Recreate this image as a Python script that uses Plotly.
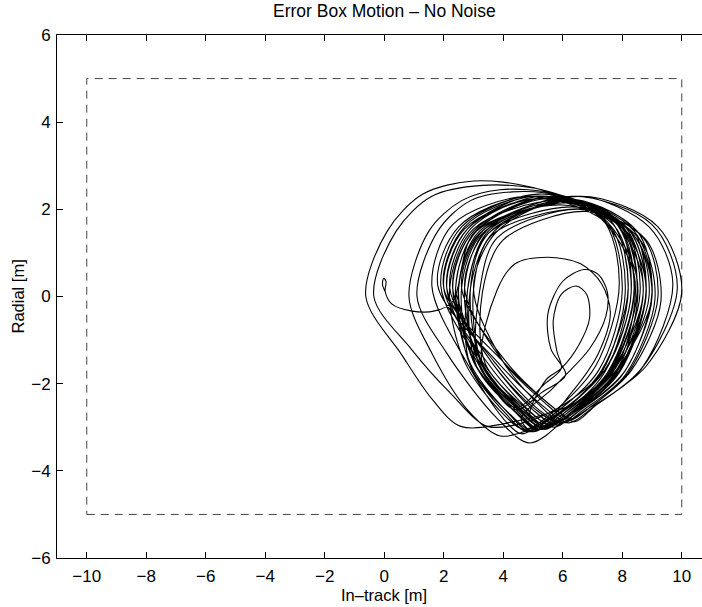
import plotly.graph_objects as go

# ---- data ----
x_ticks = [-10, -8, -6, -4, -2, 0, 2, 4, 6, 8, 10]
y_ticks = [-6, -4, -2, 0, 2, 4, 6]

box_x = [-10, 10, 10, -10, -10]
box_y = [-5, -5, 5, 5, -5]

start_pts = [(0.02, 0.12), (-0.06, 0.28), (-0.02, 0.42), (0.06, 0.34), (0.03, 0.12),
             (0.25, -0.17), (0.9, -0.33), (1.7, -0.33), (2.3, -0.12)]

loops_1 = [
    (3.0, 1.45), (5.5, 2.25), (7.9, 1.65), (8.5, 0.1), (7.6, -1.7), (6.1, -2.7), (5.4, -3.0), (4.7, -2.6), (3.3, -1.5),
    (2.1, 0.2), (2.8, 1.55), (5.0, 2.3), (7.7, 1.75), (8.4, 0.2), (7.5, -1.75), (5.9, -2.75), (5.1, -3.05), (4.4, -2.65), (3.0, -1.5),
    (2.6, 0.2), (3.3, 1.45), (6.3, 2.15), (8.4, 1.4), (8.9, 0.0), (7.9, -1.6), (6.4, -2.45), (4.5, -2.85), (2.57, -2.98), (1.6, -2.35), (0.6, -1.35),
    (-0.62, 0.0), (0.1, 1.5), (1.3, 2.35), (3.0, 2.65), (5.0, 2.5), (7.1, 1.9), (8.4, 0.5), (7.9, -1.5), (6.4, -2.6), (5.3, -3.0), (4.5, -2.6), (3.2, -1.5),
    (1.9, 0.25), (2.6, 1.6), (5.2, 2.35), (7.6, 1.75), (8.2, 0.2), (7.3, -1.7), (5.7, -2.8), (4.9, -3.1), (4.2, -2.7), (2.9, -1.55),
    (2.4, 0.2), (3.1, 1.5), (6.0, 2.1), (8.1, 1.5), (8.6, 0.1), (7.7, -1.7), (6.2, -2.7), (5.5, -3.0), (4.9, -2.75),
]

inner_1 = [
    (5.45, -1.9), (5.95, -1.65), (6.55, -1.1), (6.9, -0.5), (6.8, 0.05), (6.45, 0.24), (5.95, 0.05),
    (5.68, -0.55), (5.8, -1.25), (5.95, -1.65), (5.4, -2.0), (4.4, -2.55), (3.1, -1.4),
]

loops_2 = [
    (2.8, 0.15), (3.5, 1.45), (6.5, 2.05), (8.4, 1.4), (9.0, 0.0), (8.0, -1.8), (6.6, -2.6), (5.8, -2.95), (5.0, -2.6), (3.6, -1.5),
    (2.2, 0.2), (2.9, 1.55), (5.3, 2.3), (7.8, 1.7), (8.3, 0.1), (7.5, -1.6), (6.1, -2.45), (4.9, -2.85), (3.47, -2.98), (2.2, -2.2), (0.9, -1.2),
    (-0.35, 0.0), (0.4, 1.5), (1.6, 2.3), (3.3, 2.55), (5.3, 2.45), (7.3, 1.85), (8.5, 0.4), (7.9, -1.6), (6.3, -2.7), (5.2, -3.05), (4.4, -2.65), (3.1, -1.6),
    (2.5, 0.2), (3.2, 1.5), (6.2, 2.2), (8.1, 1.6), (8.7, 0.05), (7.6, -1.75), (6.1, -2.7), (5.4, -3.0), (4.7, -2.65), (3.3, -1.55),
    (3.0, 0.15), (3.6, 1.4), (6.8, 2.0), (8.6, 1.3), (9.1, -0.05), (8.1, -1.8), (6.7, -2.6), (6.0, -2.9), (5.3, -2.55), (4.0, -1.5),
    (3.0, 0.2), (3.8, 1.5), (6.6, 2.3), (9.2, 1.6), (10.0, 0.1), (8.8, -1.6), (7.1, -2.5), (6.4, -2.87), (5.6, -2.5), (4.0, -1.5),
    (2.0, 0.2), (2.7, 1.6), (5.1, 2.3), (7.6, 1.75), (8.2, 0.15), (7.4, -1.75), (5.8, -2.8), (5.0, -3.1), (4.6, -2.8),
]

inner_2 = [
    (5.6, -2.15), (6.1, -1.8), (6.9, -1.2), (7.45, -0.45), (7.5, 0.1), (7.2, 0.5), (6.72, 0.62), (6.0, 0.35),
    (5.5, -0.4), (5.6, -1.2), (6.1, -1.8), (5.3, -2.2), (4.4, -2.6), (3.2, -1.55),
]

loops_3 = [
    (2.7, 0.2), (3.4, 1.5), (6.0, 2.25), (8.2, 1.55), (8.8, 0.0), (7.8, -1.6), (6.3, -2.5), (5.2, -2.95), (3.9, -3.2), (2.8, -2.6), (1.6, -1.3),
    (0.83, 0.0), (1.5, 1.5), (2.6, 2.2), (3.9, 2.45), (5.8, 2.35), (7.7, 1.75), (8.7, 0.3), (7.9, -1.7), (6.2, -2.75), (5.3, -3.0), (4.5, -2.6), (3.2, -1.6),
    (2.3, 0.2), (3.0, 1.5), (5.6, 2.3), (7.9, 1.6), (8.4, 0.05), (7.5, -1.8), (6.1, -2.7), (5.3, -3.0), (4.6, -2.65), (3.2, -1.6),
    (3.2, 0.1), (3.8, 1.35), (6.6, 2.0), (8.7, 1.35), (9.2, 0.0), (8.2, -1.75), (6.9, -2.55), (6.2, -2.85), (5.5, -2.5), (4.0, -1.5),
    (2.7, 0.2), (3.5, 1.55), (6.3, 2.3), (9.0, 1.65), (9.85, 0.2), (8.6, -1.7), (6.8, -2.6), (6.0, -2.9), (5.2, -2.6), (3.7, -1.5),
    (2.1, 0.2), (2.8, 1.55), (5.2, 2.25), (7.7, 1.65), (8.3, 0.1), (7.4, -1.7), (5.6, -2.8), (4.8, -3.1), (4.1, -2.7), (2.9, -1.6),
    (2.5, 0.2), (3.2, 1.45), (6.1, 2.15), (8.2, 1.45), (8.7, 0.05), (7.7, -1.8), (6.2, -2.7), (5.5, -3.0), (4.8, -2.65), (3.3, -1.55),
]

inner_3 = [
    (3.8, 0.16), (4.4, 0.75), (5.5, 0.9), (6.6, 0.75), (7.3, 0.3), (7.6, -0.37), (7.2, -1.3),
    (6.3, -2.2), (5.3, -2.9), (4.6, -2.6), (3.3, -1.6),
]

loops_4 = [
    (2.9, 0.2), (3.5, 1.45), (6.3, 2.2), (8.4, 1.5), (9.0, 0.0), (7.9, -1.6), (6.4, -2.6), (4.9, -3.36), (3.8, -2.8), (2.1, -1.3),
    (1.1, 0.0), (1.8, 1.5), (2.9, 2.2), (4.3, 2.4), (6.0, 2.3), (7.9, 1.7), (8.8, 0.2), (7.8, -1.75), (6.0, -2.8), (5.2, -3.05), (4.5, -2.65), (3.1, -1.6),
    (2.4, 0.2), (3.1, 1.5), (5.7, 2.3), (8.0, 1.6), (8.5, 0.1), (7.6, -1.75), (6.0, -2.75), (5.2, -3.05), (4.5, -2.7), (3.1, -1.6),
    (2.9, 0.2), (3.7, 1.5), (6.5, 2.3), (8.9, 1.6), (9.7, 0.3), (8.7, -1.6), (7.0, -2.55), (6.2, -2.9), (5.4, -2.55), (3.8, -1.5),
    (1.8, 0.25), (2.5, 1.6), (4.9, 2.3), (7.4, 1.75), (8.0, 0.15), (7.2, -1.7), (5.4, -2.85), (4.6, -3.15), (4.0, -2.8), (2.8, -1.55),
    (1.6, 0.25), (2.3, 1.65), (4.8, 2.3), (7.3, 1.8), (7.9, 0.3), (7.1, -1.6), (5.5, -2.75), (4.7, -3.05), (4.0, -2.7), (2.7, -1.5),
    (2.2, 0.2), (3.0, 1.55), (5.9, 2.2), (8.2, 1.55), (8.8, 0.1), (7.9, -1.7), (6.3, -2.65), (5.6, -2.95), (4.9, -2.65), (3.4, -1.55),
    (3.3, 0.1), (4.0, 1.3), (6.8, 1.95), (8.8, 1.3), (9.3, -0.1), (8.3, -1.7), (7.0, -2.5), (6.3, -2.8), (5.6, -2.5), (4.1, -1.5),
    (2.6, 0.2), (3.3, 1.5), (6.1, 2.25), (8.3, 1.6), (8.8, 0.05), (7.9, -1.75), (6.4, -2.7), (5.7, -3.0), (5.0, -2.7), (3.5, -1.55),
    (2.0, 0.2), (2.7, 1.55), (5.2, 2.25), (7.6, 1.6), (8.1, 0.1), (7.3, -1.75), (5.7, -2.8), (5.0, -3.1), (4.3, -2.75), (2.9, -1.6),
    (2.8, 0.15), (3.5, 1.5), (6.4, 2.2), (8.5, 1.5), (9.0, 0.1), (8.1, -1.7), (6.6, -2.6), (5.9, -2.9), (5.1, -2.6), (3.6, -1.5),
    (2.3, 0.2), (3.0, 1.5), (5.6, 2.3), (8.0, 1.6), (8.5, 0.1), (7.6, -1.75), (6.1, -2.75), (5.4, -3.05), (4.7, -2.7), (3.3, -1.55), (2.4, 0.1),
]

track = start_pts + loops_1 + inner_1 + loops_2 + inner_2 + loops_3 + inner_3 + loops_4
track_x = [p[0] for p in track]
track_y = [p[1] for p in track]

FONT = "Liberation Sans, Arial, Helvetica, sans-serif"

fig = go.Figure()
fig.add_trace(go.Scatter(x=box_x, y=box_y, mode="lines",
                         line=dict(color="#444444", width=1, dash="8px,6px"),
                         hoverinfo="skip", showlegend=False))
fig.add_trace(go.Scatter(x=track_x, y=track_y, mode="lines",
                         line=dict(color="black", width=1.1, shape="spline", smoothing=0.9),
                         hoverinfo="skip", showlegend=False))
# invisible trace to activate the top mirror axis
fig.add_trace(go.Scatter(x=[box_x[0]], y=[box_y[0]], xaxis="x2", mode="markers",
                         marker=dict(opacity=0), hoverinfo="skip", showlegend=False))

axis_common = dict(showgrid=False, zeroline=False, ticks="inside", ticklen=6, tickwidth=1,
                   tickcolor="black", showline=True, linecolor="black", linewidth=1)
tfont = dict(family=FONT, size=17, color="black")
lfont = dict(family=FONT, size=16.5, color="black")
hfont = dict(family=FONT, size=17.5, color="black")

fig.update_layout(
    width=702, height=607,
    margin=dict(l=57, r=0, t=35, b=49),
    paper_bgcolor="white", plot_bgcolor="white",
    showlegend=False,
    xaxis=dict(range=[-11, 10.68], tickvals=x_ticks, tickfont=tfont, ticklabelstandoff=3, **axis_common),
    xaxis2=dict(range=[-11, 10.68], overlaying="x", side="top", tickvals=x_ticks,
                showticklabels=False, **axis_common),
    yaxis=dict(range=[-6, 6], tickvals=y_ticks, tickfont=tfont, ticklabelstandoff=2, **axis_common),
    annotations=[
        dict(text="Error Box Motion – No Noise", xref="x", x=0, yref="paper", y=1,
             yanchor="bottom", yshift=12, showarrow=False, font=hfont),
        dict(text="In–track [m]", xref="x", x=0, yref="paper", y=0,
             yanchor="top", yshift=-26, showarrow=False, font=lfont),
        dict(text="Radial [m]", xref="paper", x=0, xanchor="center", xshift=-40,
             yref="y", y=0, textangle=-90, showarrow=False, font=lfont),
    ],
)

fig.write_html("out.html")
